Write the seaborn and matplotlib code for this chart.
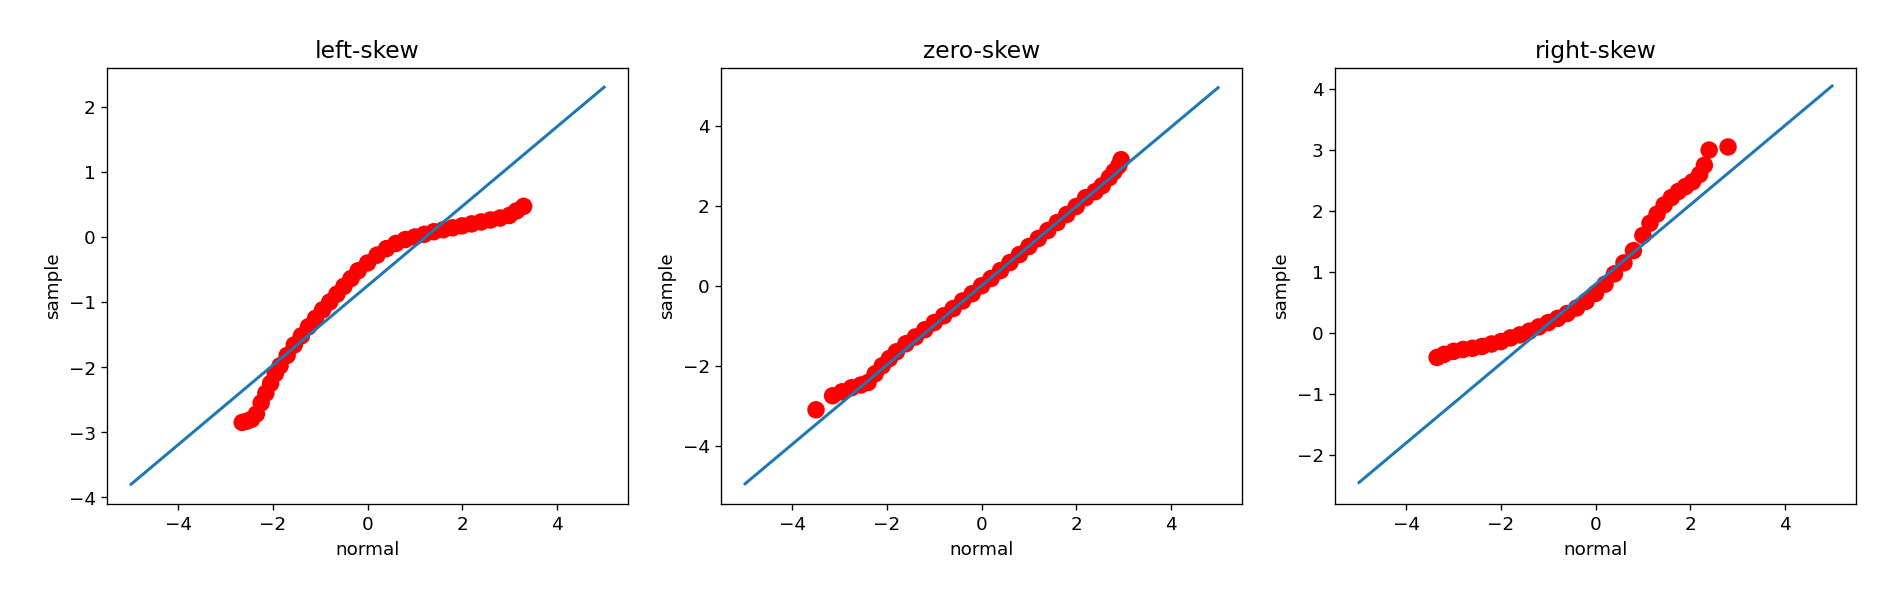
import matplotlib
matplotlib.use("Agg")
import matplotlib.pyplot as plt
import seaborn as sns

titles = ["left-skew", "zero-skew", "right-skew"]

left_x = [-2.65, -2.55, -2.45, -2.35, -2.25, -2.15, -2.05, -1.95, -1.85, -1.7, -1.55, -1.4, -1.25, -1.1,
          -0.95, -0.8, -0.65, -0.5, -0.35, -0.2, 0.0, 0.2, 0.4, 0.6, 0.8, 1.0, 1.2, 1.4, 1.6, 1.8,
          2.0, 2.2, 2.4, 2.6, 2.8, 3.0, 3.15, 3.3]
left_y = [-2.85, -2.83, -2.8, -2.72, -2.55, -2.4, -2.25, -2.1, -1.98, -1.82, -1.66, -1.52, -1.38, -1.25,
          -1.12, -1.0, -0.88, -0.76, -0.64, -0.52, -0.4, -0.28, -0.18, -0.1, -0.04, 0.0, 0.04, 0.08, 0.11, 0.14,
          0.17, 0.2, 0.23, 0.26, 0.29, 0.33, 0.4, 0.47]

zero_x = [-3.5, -3.15, -2.95, -2.75, -2.55, -2.4, -2.25, -2.1, -1.95, -1.8, -1.6, -1.4, -1.2, -1.0,
          -0.8, -0.6, -0.4, -0.2, 0.0, 0.2, 0.4, 0.6, 0.8, 1.0, 1.2, 1.4, 1.6, 1.8, 2.0, 2.2,
          2.4, 2.55, 2.7, 2.8, 2.9, 2.95]
zero_y = [-3.1, -2.75, -2.65, -2.55, -2.48, -2.42, -2.2, -2.0, -1.82, -1.65, -1.45, -1.28, -1.1, -0.92,
          -0.75, -0.57, -0.38, -0.2, 0.0, 0.18, 0.38, 0.58, 0.78, 0.98, 1.18, 1.38, 1.58, 1.78, 1.98, 2.2,
          2.35, 2.5, 2.7, 2.85, 3.0, 3.15]

right_x = [-3.35, -3.2, -3.0, -2.8, -2.6, -2.4, -2.2, -2.0, -1.8, -1.6, -1.4, -1.2, -1.0, -0.8,
           -0.6, -0.4, -0.2, 0.0, 0.2, 0.4, 0.6, 0.8, 1.0, 1.15, 1.3, 1.45, 1.6, 1.75, 1.9, 2.05,
           2.2, 2.3, 2.4, 2.8]
right_y = [-0.4, -0.35, -0.3, -0.27, -0.25, -0.22, -0.18, -0.14, -0.08, -0.03, 0.03, 0.1, 0.17, 0.24,
           0.32, 0.41, 0.52, 0.65, 0.8, 0.97, 1.15, 1.35, 1.6, 1.8, 1.95, 2.1, 2.22, 2.32, 2.4, 2.48,
           2.6, 2.75, 3.0, 3.05]

line_x = [-5, 5]
left_line = [-3.8, 2.3]
zero_line = [-4.95, 4.95]
right_line = [-2.45, 4.05]

points = [(left_x, left_y), (zero_x, zero_y), (right_x, right_y)]
lines = [left_line, zero_line, right_line]
ylims = [(-4.1, 2.6), (-5.45, 5.45), (-2.8, 4.35)]

fig, axes = plt.subplots(1, 3, figsize=(15.7, 5.02), dpi=120)
for ax, title, (px, py), ly, yl in zip(axes, titles, points, lines, ylims):
    sns.scatterplot(x=px, y=py, ax=ax, color="red", s=110, edgecolor="none", zorder=2)
    sns.lineplot(x=line_x, y=ly, ax=ax, color="#1f77b4", linewidth=1.8, zorder=3)
    ax.set_title(title, fontsize=14)
    ax.set_xlabel("normal", fontsize=11)
    ax.set_ylabel("sample", fontsize=11)
    ax.tick_params(labelsize=11)
    ax.set_xlim(-5.5, 5.5)
    ax.set_ylim(*yl)
    ax.set_xticks([-4, -2, 0, 2, 4])

plt.subplots_adjust(left=0.057, right=0.985, bottom=0.163, top=0.887, wspace=0.18)
plt.savefig("out.png")
